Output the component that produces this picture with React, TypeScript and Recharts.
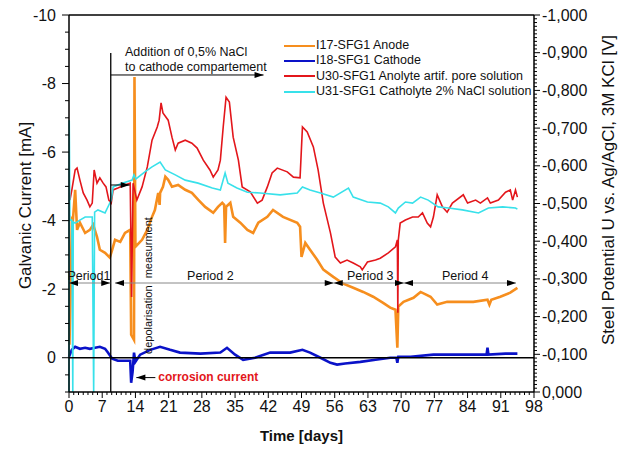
import React from "react";
import { LineChart, Line, XAxis, YAxis, ReferenceLine, ReferenceDot, Legend } from "recharts";

const FONT = "'Liberation Sans', Arial, Helvetica, sans-serif";

// [day, mA] – left axis
const anodeI17: [number, number][] = [
  [0.1, -0.38], [0.3, -1.69], [0.6, -4.02], [0.8, -3.97], [1.3, -4.9], [1.7, -3.73], [2.3, -3.94],
  [3.4, -3.64], [4.4, -3.73], [5.1, -3.88], [5.9, -3.53], [6.5, -3.15], [7.6, -3.06], [8.6, -2.92],
  [9.1, -3.15], [9.7, -3.44], [10.8, -3.38], [11.8, -3.64], [12.9, -3.73], [13.1, -0.67], [13.7, -0.52],
  [13.8, -8.19], [14.0, -3.24], [15.4, -3.44], [16.5, -3.73], [17.5, -4.11], [18.1, -4.31], [18.8, -4.81],
  [19.1, -4.46], [19.2, -4.81], [19.8, -4.99], [20.3, -5.28], [20.9, -5.19], [21.7, -4.99], [23.0, -5.04],
  [24.5, -4.9], [25.9, -4.81], [27.2, -4.61], [28.7, -4.4], [30.4, -4.23], [31.4, -4.4], [32.3, -4.52],
  [32.7, -4.46], [32.9, -3.35], [33.1, -4.4], [34.0, -4.52], [34.6, -4.11], [36.1, -3.94], [37.6, -3.73],
  [38.8, -3.64], [39.9, -3.94], [41.8, -4.11], [43.0, -4.31], [45.1, -4.11], [48.1, -3.94], [48.7, -3.82],
  [49.0, -2.94], [49.8, -3.35], [50.8, -3.15], [52.3, -2.86], [53.6, -2.57], [55.7, -2.36], [57.8, -2.16],
  [59.9, -2.04], [62.0, -1.92], [64.1, -1.78], [66.2, -1.6], [67.7, -1.46], [68.8, -1.4], [69.2, -0.29],
  [69.4, -1.49], [70.5, -1.63], [72.6, -1.75], [74.1, -1.92], [76.2, -1.78], [77.6, -1.55], [79.7, -1.63],
  [82.5, -1.63], [85.2, -1.63], [88.2, -1.69], [88.6, -1.55], [89.0, -1.69], [90.9, -1.78], [93.0, -1.9],
  [94.5, -2.04],
];

const cathodeI18: [number, number][] = [
  [0, -0.03], [0.6, -0.23], [1.3, -0.32], [2.3, -0.26], [3.4, -0.29], [4.4, -0.26], [5.5, -0.29],
  [6.5, -0.32], [7.6, -0.26], [8.2, -0.15], [9.1, 0.03], [10.3, 0.09], [11.8, 0.09], [12.9, 0.09],
  [13.1, 0.73], [13.4, 0.41], [13.7, -0.15], [14.0, 0.12], [15.0, -0.09], [17.1, -0.23], [19.2, -0.32],
  [21.3, -0.23], [23.4, -0.15], [27.7, -0.12], [31.9, -0.15], [33.3, -0.29], [35.0, -0.09], [36.7, 0.06],
  [39.2, 0], [42.4, -0.15], [46.6, -0.15], [49.2, -0.23], [50.8, -0.15], [53.0, 0], [55.1, 0.15],
  [56.5, 0.2], [58.2, 0.17], [61.4, 0.12], [64.6, 0.06], [67.7, 0], [69.0, 0], [69.2, 0.15], [69.4, -0.03],
  [72.0, -0.03], [76.8, -0.09], [82.5, -0.09], [88.0, -0.09], [88.2, -0.29], [88.4, -0.09], [92.0, -0.12],
  [94.5, -0.12],
];

// [day, V] – right axis
const anolyteU30: [number, number][] = [
  [0.2, -0.509], [0.6, -0.536], [1.3, -0.589], [1.7, -0.594], [2.3, -0.562], [3.0, -0.528], [3.8, -0.509],
  [4.4, -0.491], [4.9, -0.501], [5.3, -0.589], [5.9, -0.554], [6.5, -0.568], [7.2, -0.554], [7.8, -0.544],
  [8.4, -0.509], [8.9, -0.501], [9.3, -0.536], [10.3, -0.541], [11.8, -0.549], [12.9, -0.554], [13.2, -0.252],
  [13.5, -0.554], [14.3, -0.509], [15.4, -0.544], [16.5, -0.597], [17.5, -0.668], [18.6, -0.703], [19.0, -0.721],
  [19.4, -0.767], [19.8, -0.74], [20.9, -0.721], [21.7, -0.676], [22.4, -0.642], [23.0, -0.66], [24.5, -0.668],
  [25.9, -0.66], [27.0, -0.647], [28.3, -0.615], [29.7, -0.589], [30.4, -0.57], [31.4, -0.589], [31.9, -0.615],
  [32.5, -0.703], [33.1, -0.782], [33.8, -0.769], [34.6, -0.676], [35.7, -0.615], [36.5, -0.544], [38.2, -0.531],
  [39.7, -0.501], [40.7, -0.509], [41.8, -0.544], [42.8, -0.581], [43.9, -0.594], [46.0, -0.584], [47.3, -0.57],
  [48.7, -0.568], [49.2, -0.703], [50.2, -0.69], [51.5, -0.65], [52.5, -0.589], [53.6, -0.501], [55.1, -0.422],
  [56.1, -0.358], [57.2, -0.342], [58.6, -0.35], [59.9, -0.342], [61.4, -0.332], [61.8, -0.324], [62.9, -0.345],
  [64.6, -0.35], [65.6, -0.355], [67.3, -0.369], [68.8, -0.385], [69.2, -0.403], [69.3, -0.21], [69.4, -0.403],
  [69.8, -0.448], [70.9, -0.456], [72.4, -0.464], [73.6, -0.464], [74.5, -0.475], [75.5, -0.448], [76.2, -0.438],
  [76.8, -0.464], [77.6, -0.523], [78.7, -0.491], [79.7, -0.477], [80.8, -0.501], [83.1, -0.523], [84.0, -0.501],
  [85.7, -0.509], [86.7, -0.501], [88.2, -0.515], [88.8, -0.501], [90.5, -0.509], [92.0, -0.53], [93.0, -0.536],
  [93.5, -0.509], [94.1, -0.536], [94.5, -0.517],
];

const catholyteU31: [number, number][] = [
  [0, 0], [0.05, -0.721], [0.2, -0.456], [0.6, -0.456], [0.8, 0], [0.9, -0.451], [1.3, -0.448], [2.3, -0.456],
  [3.4, -0.464], [4.9, -0.464], [5.2, 0], [5.4, -0.477], [6.1, -0.483], [7.6, -0.475], [8.4, -0.496],
  [8.9, -0.509], [9.3, -0.544], [11.2, -0.554], [13.3, -0.562], [13.7, -0.576], [14.1, -0.565], [16.0, -0.584],
  [17.5, -0.597], [19.2, -0.61], [20.3, -0.589], [22.4, -0.576], [24.5, -0.562], [27.2, -0.554], [30.2, -0.541],
  [31.9, -0.536], [32.9, -0.581], [33.5, -0.554], [35.4, -0.541], [37.6, -0.53], [40.3, -0.528], [44.5, -0.523],
  [48.1, -0.528], [49.2, -0.544], [50.8, -0.536], [53.0, -0.528], [55.7, -0.517], [58.9, -0.541], [59.9, -0.517],
  [62.9, -0.504], [65.6, -0.501], [67.3, -0.491], [68.8, -0.475], [69.4, -0.488], [70.9, -0.504], [72.4, -0.501],
  [74.1, -0.517], [75.7, -0.509], [77.8, -0.491], [80.0, -0.488], [82.9, -0.483], [86.3, -0.475], [88.4, -0.488],
  [91.4, -0.491], [94.1, -0.488], [94.5, -0.485],
];

// periods: [label, start day, end day, label centre day]
const periods: [string, number, number, number][] = [
  ["Period1", 0, 8.7, 4.2],
  ["Period 2", 9.7, 55.8, 29.8],
  ["Period 3", 55.8, 70.6, 63.5],
  ["Period 4", 70.6, 94.2, 83.5],
];

const dayTicks = Array.from({ length: 99 }, (_, i) => i);
const currentTicks = Array.from({ length: 23 }, (_, i) => -10 + i * 0.5);
const potentialTicks = Array.from({ length: 101 }, (_, i) => Math.round((-1 + i * 0.01) * 100) / 100);

const toRows = (pts: [number, number][]) => pts.map(([d, v]) => ({ d, v }));

const AXIS = { stroke: "#000", strokeWidth: 1.5 };

const BottomTick = (p: any) => {
  const v = p.payload.value;
  const major = v % 7 === 0;
  return (
    <g>
      <line x1={p.x} y1={p.y} x2={p.x} y2={p.y + (major ? 6 : 3)} stroke="#000" />
      {major && (
        <text x={p.x} y={p.y + 20} textAnchor="middle" fontSize={16} fill="#111">
          {v}
        </text>
      )}
    </g>
  );
};

const TopTick = (p: any) => {
  const major = p.payload.value % 7 === 0;
  return <line x1={p.x} y1={p.y} x2={p.x} y2={p.y - (major ? 6 : 3)} stroke="#000" />;
};

const LeftTick = (p: any) => {
  const v = p.payload.value;
  const major = Number.isInteger(v) && v % 2 === 0 && v <= 0;
  return (
    <g>
      <line x1={p.x - (major ? 7 : 4)} y1={p.y} x2={p.x} y2={p.y} stroke="#000" />
      {major && (
        <text x={p.x - 13} y={p.y + 5.5} textAnchor="end" fontSize={16} fill="#111">
          {v}
        </text>
      )}
    </g>
  );
};

const RightTick = (p: any) => {
  const v = p.payload.value;
  const major = Math.round(v * 100) % 10 === 0;
  const txt = (Math.abs(v) < 1e-9 ? 0 : v).toFixed(3).replace(".", ",");
  return (
    <g>
      <line x1={p.x} y1={p.y} x2={p.x + (major ? 6 : 3)} y2={p.y} stroke="#000" />
      {major && (
        <text x={p.x + 8} y={p.y + 5.5} fontSize={16} fill="#111">
          {txt}
        </text>
      )}
    </g>
  );
};

function arrow(start: boolean, end: boolean, stroke: string, width = 1) {
  return (p: any) => {
    const { x1, y1, x2, y2 } = p;
    const len = Math.hypot(x2 - x1, y2 - y1) || 1;
    const ux = (x2 - x1) / len;
    const uy = (y2 - y1) / len;
    const L = 9;
    const W = 3;
    const head = (tx: number, ty: number, sx: number, sy: number) =>
      `${tx},${ty} ${tx - sx * L - sy * W},${ty - sy * L + sx * W} ${tx - sx * L + sy * W},${ty - sy * L - sx * W}`;
    return (
      <g>
        <line x1={x1} y1={y1} x2={x2} y2={y2} stroke={stroke} strokeWidth={width} />
        {end && <polygon points={head(x2, y2, ux, uy)} fill="#000" />}
        {start && <polygon points={head(x1, y1, -ux, -uy)} fill="#000" />}
      </g>
    );
  };
}

const textShape = (lines: string[], opts: any = {}) => (p: any) => (
  <text
    x={p.cx}
    y={p.cy}
    fontSize={opts.size ?? 12.5}
    fill={opts.fill ?? "#111"}
    fontWeight={opts.bold ? "bold" : "normal"}
    textAnchor={opts.anchor ?? "start"}
    dominantBaseline="central"
    transform={opts.rotate ? `rotate(-90 ${p.cx} ${p.cy})` : undefined}
  >
    {lines.map((l, i) => (
      <tspan key={i} x={p.cx} dy={i === 0 ? 0 : 15}>
        {l}
      </tspan>
    ))}
  </text>
);

const renderLegend = (props: any) => (
  <div style={{ fontSize: 12.5, lineHeight: "15.3px", color: "#111", fontFamily: FONT }}>
    {props.payload.map((e: any) => (
      <div key={e.value} style={{ display: "flex", alignItems: "center", whiteSpace: "nowrap" }}>
        <span style={{ display: "inline-block", width: 31, borderTop: `2.5px solid ${e.color}`, marginRight: 1 }} />
        {e.value}
      </div>
    ))}
  </div>
);

export default function App() {
  return (
    <div style={{ position: "absolute", left: 0, top: 0, width: 619, height: 450, background: "#fff", fontFamily: FONT }}>
      <LineChart width={619} height={450} margin={{ top: 14, right: 0, bottom: 0, left: 0 }}>
        <XAxis
          dataKey="d"
          type="number"
          domain={[0, 98]}
          ticks={dayTicks}
          interval={0}
          height={58}
          tickSize={0}
          tickMargin={0}
          tickLine={false}
          axisLine={AXIS}
          tick={BottomTick}
          label={{
            content: (p: any) => (
              <text x={p.viewBox.x + p.viewBox.width / 2} y={p.viewBox.y + 49} textAnchor="middle" fontSize={15} fontWeight="bold" fill="#111">
                Time [days]
              </text>
            ),
          }}
        />
        <XAxis
          xAxisId="top"
          orientation="top"
          dataKey="d"
          type="number"
          domain={[0, 98]}
          ticks={dayTicks}
          interval={0}
          height={1}
          tickSize={0}
          tickMargin={0}
          tickLine={false}
          axisLine={AXIS}
          tick={TopTick}
        />
        <YAxis
          yAxisId="left"
          type="number"
          domain={[-10, 1]}
          reversed
          width={69}
          ticks={currentTicks}
          interval={0}
          tickSize={0}
          tickMargin={0}
          tickLine={false}
          axisLine={AXIS}
          tick={LeftTick}
          label={{
            content: (p: any) => {
              const cx = p.viewBox.x + 25;
              const cy = p.viewBox.y + p.viewBox.height / 2 + 2;
              return (
                <text x={cx} y={cy} transform={`rotate(-90 ${cx} ${cy})`} textAnchor="middle" dominantBaseline="central" fontSize={17} fill="#111">
                  Galvanic Current [mA]
                </text>
              );
            },
          }}
        />
        <YAxis
          yAxisId="right"
          orientation="right"
          type="number"
          domain={[-1, 0]}
          reversed
          width={85}
          ticks={potentialTicks}
          interval={0}
          tickSize={0}
          tickMargin={0}
          tickLine={false}
          axisLine={AXIS}
          tick={RightTick}
          label={{
            content: (p: any) => {
              const cx = p.viewBox.x + 74;
              const cy = p.viewBox.y + 175;
              return (
                <text x={cx} y={cy} transform={`rotate(-90 ${cx} ${cy})`} textAnchor="middle" dominantBaseline="central" fontSize={17} fill="#111">
                  Steel Potential U vs. Ag/AgCl, 3M KCl [V]
                </text>
              );
            },
          }}
        />

        <Legend
          layout="vertical"
          align="center"
          verticalAlign="middle"
          content={renderLegend}
          wrapperStyle={{ left: 284, top: 38, width: 260 }}
        />

        <Line yAxisId="left" data={toRows(anodeI17)} dataKey="v" name="I17-SFG1 Anode" stroke="#f68e1e" strokeWidth={2.6} dot={false} isAnimationActive={false} />
        <Line yAxisId="left" data={toRows(cathodeI18)} dataKey="v" name="I18-SFG1 Cathode" stroke="#0a12c8" strokeWidth={2.6} dot={false} isAnimationActive={false} />
        <Line yAxisId="right" data={toRows(anolyteU30)} dataKey="v" name="U30-SFG1 Anolyte artif. pore solution" stroke="#e3161b" strokeWidth={1.6} dot={false} isAnimationActive={false} />
        <Line yAxisId="right" data={toRows(catholyteU31)} dataKey="v" name="U31-SFG1 Catholyte 2% NaCl solution" stroke="#38e1ea" strokeWidth={1.6} dot={false} isAnimationActive={false} />

        <ReferenceLine yAxisId="left" y={0} stroke="#000" strokeWidth={1.5} />
        <ReferenceLine yAxisId="left" segment={[{ x: 8.8, y: -8.89 }, { x: 8.8, y: 1 }]} shape={arrow(false, false, "#000", 1.3)} />
        <ReferenceLine yAxisId="left" segment={[{ x: 8.8, y: -8.25 }, { x: 41, y: -8.25 }]} shape={arrow(false, true, "#000")} />
        <ReferenceLine yAxisId="left" segment={[{ x: 8.8, y: -5.04 }, { x: 12.8, y: -5.04 }]} shape={arrow(false, true, "#000")} />
        <ReferenceLine yAxisId="left" segment={[{ x: 18.2, y: 0.58 }, { x: 14.2, y: 0.58 }]} shape={arrow(false, true, "#000")} />
        {periods.map(([name, a, b]) => (
          <ReferenceLine key={name} yAxisId="left" segment={[{ x: a, y: -2.18 }, { x: b, y: -2.18 }]} shape={arrow(true, true, "#888")} />
        ))}
        {periods.map(([name, , , c]) => (
          <ReferenceDot key={name + "t"} yAxisId="left" x={c} y={-2.38} r={0} shape={textShape([name], { anchor: "middle" })} />
        ))}
        <ReferenceDot yAxisId="left" x={11.8} y={-8.92} r={0} shape={textShape(["Addition of 0,5% NaCl", "to cathode compartement"])} />
        <ReferenceDot yAxisId="left" x={16.7} y={-3.21} r={0} shape={textShape(["measurment"], { anchor: "middle", rotate: true, size: 11 })} />
        <ReferenceDot yAxisId="left" x={16.7} y={-1.11} r={0} shape={textShape(["depolarisation"], { anchor: "middle", rotate: true, size: 11 })} />
        <ReferenceDot yAxisId="left" x={18.8} y={0.56} r={0} shape={textShape(["corrosion current"], { bold: true, fill: "#e3161b", size: 12 })} />
      </LineChart>
    </div>
  );
}
